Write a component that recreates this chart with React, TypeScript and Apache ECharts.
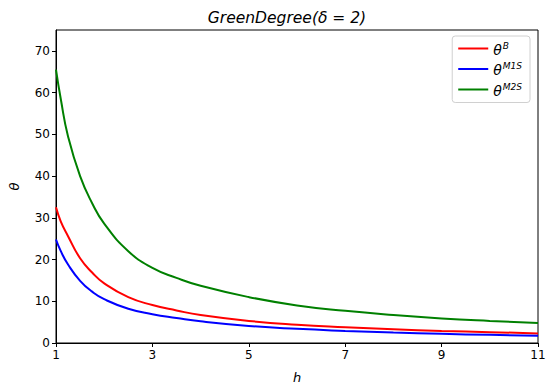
import React, { useEffect, useRef } from "react";
import * as echarts from "echarts";

const hValues = [1, 1.1, 1.25, 1.5, 1.75, 2, 2.5, 3, 3.5, 4, 5, 6, 7, 8, 9, 10, 11];
const thetaB = [32.5, 29.1, 25.6, 20.3, 16.9, 14.3, 11.0, 9.1, 7.8, 6.7, 5.3, 4.4, 3.8, 3.3, 2.9, 2.6, 2.3];
const thetaM1S = [24.8, 22.0, 18.8, 14.9, 12.3, 10.5, 8.2, 6.9, 6.0, 5.2, 4.1, 3.4, 2.9, 2.5, 2.2, 1.95, 1.75];
const thetaM2S = [65.5, 58.4, 49.5, 40.0, 33.5, 28.6, 22.0, 18.0, 15.6, 13.7, 11.0, 9.0, 7.7, 6.7, 5.9, 5.3, 4.8];
const xTicks = [1, 3, 5, 7, 9, 11];
const yTicks = [0, 10, 20, 30, 40, 50, 60, 70];

const seriesDefs = [
  { name: "B", sup: "B", color: "#ff0000", values: thetaB },
  { name: "M1S", sup: "M1S", color: "#0000ff", values: thetaM1S },
  { name: "M2S", sup: "M2S", color: "#008000", values: thetaM2S },
];

const FONT = "DejaVu Sans";

export default function App() {
  const ref = useRef<HTMLDivElement>(null);
  useEffect(() => {
    if (!ref.current) return;
    const chart = echarts.init(ref.current, null, { renderer: "svg" });
    chart.setOption({
      animation: false,
      backgroundColor: "#fff",
      title: {
        text: "GreenDegree(δ = 2)",
        left: 282,
        textAlign: "center",
        top: 5,
        textStyle: { fontFamily: FONT, fontStyle: "italic", fontWeight: "normal", fontSize: 15.5, color: "#000" },
      },
      grid: {
        left: 55,
        right: 12,
        top: 30,
        bottom: 47,
        show: true,
        borderColor: "#000",
        borderWidth: 1,
        backgroundColor: "transparent",
      },
      legend: {
        orient: "vertical",
        right: 20,
        top: 36,
        itemWidth: 30,
        itemHeight: 2,
        itemGap: 5,
        icon: "rect",
        padding: [5, 8, 5, 6],
        borderColor: "#d0d0d0",
        borderWidth: 1,
        borderRadius: 3,
        backgroundColor: "#fff",
        data: seriesDefs.map((s) => s.name),
        formatter: (name: string) => {
          const d = seriesDefs.find((s) => s.name === name)!;
          return `{t|θ}{s|${d.sup}}`;
        },
        textStyle: {
          fontFamily: FONT,
          color: "#000",
          rich: {
            t: { fontFamily: FONT, fontStyle: "italic", fontSize: 14, color: "#000", padding: [2, 0, 0, 0] },
            s: { fontFamily: FONT, fontStyle: "italic", fontSize: 9, color: "#000", padding: [0, 0, 6, 1] },
          },
        },
      },
      xAxis: {
        type: "value",
        min: 1,
        max: 11,
        interval: 2,
        name: "h",
        nameLocation: "middle",
        nameGap: 28,
        nameTextStyle: { fontFamily: FONT, fontStyle: "italic", fontSize: 13, color: "#000" },
        axisLine: { show: true, lineStyle: { color: "#000", width: 1 } },
        axisTick: { show: true, length: 4, lineStyle: { color: "#000" } },
        axisLabel: {
          fontFamily: FONT,
          fontSize: 12,
          color: "#000",
          margin: 6,
          formatter: (v: number) => (xTicks.includes(v) ? String(v) : ""),
        },
        splitLine: { show: false },
      },
      yAxis: {
        type: "value",
        min: 0,
        max: 75,
        interval: 10,
        name: "θ",
        nameLocation: "middle",
        nameGap: 35,
        nameRotate: 90,
        nameTextStyle: { fontFamily: FONT, fontStyle: "italic", fontSize: 13, color: "#000" },
        axisLine: { show: true, lineStyle: { color: "#000", width: 1 } },
        axisTick: { show: true, length: 4, lineStyle: { color: "#000" } },
        axisLabel: {
          fontFamily: FONT,
          fontSize: 12,
          color: "#000",
          margin: 6,
          showMaxLabel: false,
          formatter: (v: number) => (yTicks.includes(v) ? String(v) : ""),
        },
        splitLine: { show: false },
      },
      series: seriesDefs.map((s) => ({
        name: s.name,
        type: "line",
        data: hValues.map((h, i) => [h, s.values[i]]),
        smooth: true,
        showSymbol: false,
        symbol: "none",
        lineStyle: { color: s.color, width: 2 },
        itemStyle: { color: s.color },
      })),
    });
    return () => chart.dispose();
  }, []);
  return <div ref={ref} style={{ width: 550, height: 390, position: "absolute", left: 0, top: 0 }} />;
}
